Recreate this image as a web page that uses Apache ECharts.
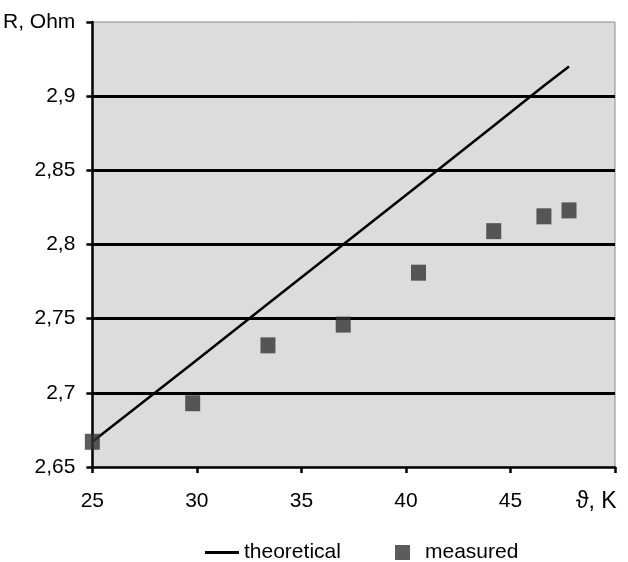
<!DOCTYPE html>
<html>
<head>
<meta charset="utf-8">
<script src="https://cdn.jsdelivr.net/npm/echarts@6/dist/echarts.min.js"></script>
<style>
html,body{margin:0;padding:0;background:#fff;}
#chart{width:628px;height:562px;}
</style>
</head>
<body>
<div id="chart"></div>
<script>
// Data
var temperatures = [25, 29.8, 33.4, 37.0, 40.6, 44.2, 46.6, 47.8];
var measuredR = [2.667, 2.693, 2.732, 2.746, 2.781, 2.809, 2.819, 2.823];
var theoreticalR = [2.667, 2.720, 2.760, 2.800, 2.840, 2.880, 2.907, 2.920];
var xTicks = [25, 30, 35, 40, 45];
var yTicks = [2.65, 2.7, 2.75, 2.8, 2.85, 2.9];
var xName = 'ϑ, K';
var yName = 'R, Ohm';
var seriesNames = ['theoretical', 'measured'];

function pairs(xs, ys){ return xs.map(function(x,i){ return [x, ys[i]]; }); }

var font = '"Liberation Sans", Arial, sans-serif';
var chart = echarts.init(document.getElementById('chart'), null, {renderer:'canvas'});
chart.setOption({
  animation: false,
  backgroundColor: '#ffffff',
  textStyle: {fontFamily: font, color: '#000'},
  grid: {left: 92, right: 13, top: 22, bottom: 95, show: true, backgroundColor: '#dcdcdc', borderColor: '#8a8a8a', borderWidth: 1},
  xAxis: {
    type: 'value', min: 25, max: 50, interval: 5,
    axisLine: {show: true, onZero: false, lineStyle: {color: '#000', width: 2.5}},
    axisTick: {show: true, length: 6, lineStyle: {color: '#000', width: 2.5}},
    splitLine: {show: false},
    axisLabel: {
      margin: 24, fontSize: 21, color: '#000', fontFamily: font,
      formatter: function(v){ return xTicks.indexOf(v) >= 0 ? String(v) : ''; }
    },
    name: xName, nameLocation: 'end', nameGap: -39,
    nameTextStyle: {fontSize: 23, color: '#000', fontFamily: font, align: 'left', verticalAlign: 'top', padding: [23, 0, 0, 0]}
  },
  yAxis: {
    type: 'value', min: 2.65, max: 2.95, interval: 0.05,
    axisLine: {show: true, onZero: false, lineStyle: {color: '#000', width: 2.5}},
    axisTick: {show: true, length: 6, lineStyle: {color: '#000', width: 2.5}},
    splitLine: {show: true, showMinLine: false, showMaxLine: false, lineStyle: {color: '#000', width: 3}},
    axisLabel: {
      margin: 17, fontSize: 21, color: '#000', fontFamily: font,
      formatter: function(v){
        if (v > 2.94) return yName;
        var r = Math.round(v*100)/100;
        return String(r).replace('.', ',');
      }
    }
  },
  legend: [
    {data: [{name: seriesNames[0], icon: 'rect', itemStyle: {color: '#000'}}], left: 200, top: 537, itemWidth: 34, itemHeight: 3, itemGap: 0,
     textStyle: {fontSize: 21, color: '#000', fontFamily: font}},
    {data: [{name: seriesNames[1], icon: 'rect'}], left: 390, top: 537, itemWidth: 15, itemHeight: 15,
     textStyle: {fontSize: 21, color: '#000', fontFamily: font, padding: [0,0,0,10]}}
  ],
  series: [
    {name: seriesNames[0], type: 'line', data: pairs(temperatures, theoreticalR), symbol: 'none', showSymbol: false,
     lineStyle: {color: '#000', width: 2.5}, itemStyle: {color: '#000'}, z: 3},
    {name: seriesNames[1], type: 'scatter', data: pairs(temperatures, measuredR), symbol: 'rect', symbolSize: [15, 16],
     itemStyle: {color: '#333333'}, z: 4}
  ]
});
</script>
</body>
</html>
